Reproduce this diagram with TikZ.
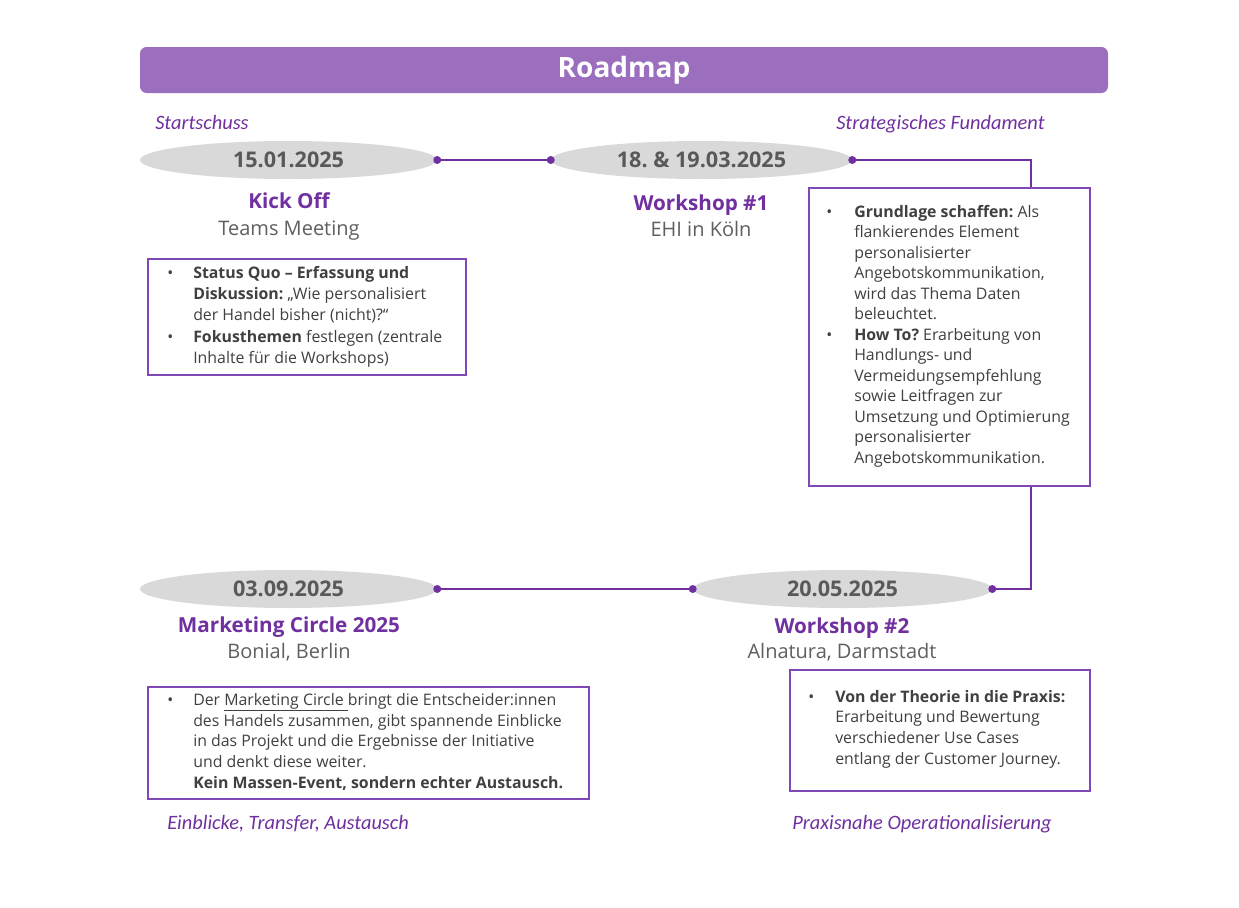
\documentclass[tikz,border=0pt]{standalone}
\usepackage{fontspec}
\setmainfont{Carlito}
\newfontfamily\osf{Open Sans}
\usetikzlibrary{shapes.geometric}
\definecolor{pline}{RGB}{112,48,160}
\definecolor{pbox}{RGB}{128,72,182}
\definecolor{phead}{RGB}{155,110,190}
\definecolor{egray}{RGB}{217,217,217}
\definecolor{dtext}{RGB}{89,89,89}
\definecolor{btext}{RGB}{64,64,64}
\definecolor{stext}{RGB}{95,95,95}
\newcommand\bul{\textbullet}
\frenchspacing
\tikzset{
  datebox/.style={ellipse, fill=egray, inner sep=0pt, minimum height=28.5pt,
    font=\osf\bfseries\fontsize{16.2}{18}\selectfont, text=dtext},
  ttl/.style={anchor=base, inner sep=0pt, font=\osf\bfseries\fontsize{15.5}{18}\selectfont, text=pline},
  sub/.style={anchor=base, inner sep=0pt, font=\osf\fontsize{15}{18}\selectfont, text=stext},
  infobox/.style={draw=pbox, line width=1.1pt, fill=white, inner sep=0pt},
  boxtext/.style={anchor=base west, inner sep=0pt, text=btext},
  phase/.style={anchor=base west, inner sep=0pt, font=\itshape\fontsize{15.3}{17}\selectfont, text=pline},
  conn/.style={draw=pline, line width=2pt},
  dotc/.style={circle, fill=pline, inner sep=0pt, minimum size=6pt}
}
\begin{document}
\begin{tikzpicture}[x=0.75pt,y=-0.75pt]
\useasboundingbox[fill=white] (0,0) rectangle (1239,907);

% header
\node[fill=phead, rounded corners=5pt, minimum width=726pt, minimum height=34.5pt, inner sep=0pt,
  text=white, font=\osf\bfseries\fontsize{21}{24}\selectfont] (header) at (624,70) {Roadmap};

% phase labels
\node[phase] (ph1) at (155,129) {Startschuss};
\node[phase] (ph2) at (836,129) {Strategisches Fundament};
\node[phase] (ph3) at (167,829) {Einblicke, Transfer, Austausch};
\node[phase] (ph4) at (792,829) {Praxisnahe Operationalisierung};

% date ellipses
\node[datebox, minimum width=222.75pt] (d1) at (288.5,160) {15.01.2025};
\node[datebox, minimum width=225.75pt] (d2) at (701.5,160) {18. \& 19.03.2025};
\node[datebox, minimum width=222.75pt] (d3) at (288.5,589) {03.09.2025};
\node[datebox, minimum width=224.25pt] (d4) at (842.5,589) {20.05.2025};

% titles
\node[ttl] (t1) at (289,208) {Kick Off};
\node[sub] (s1) at (289,235) {Teams Meeting};
\node[ttl] (t2) at (701,210) {Workshop \#1};
\node[sub] (s2) at (701,236) {EHI in Köln};
\node[ttl] (t3) at (289,632) {Marketing Circle 2025};
\node[sub] (s3) at (289,658) {Bonial, Berlin};
\node[ttl] (t4) at (842,633) {Workshop \#2};
\node[sub] (s4) at (842,658) {Alnatura, Darmstadt};

% boxes
\node[infobox, minimum width=238.5pt, minimum height=87pt] (b1) at (307,317) {};
\node[infobox, minimum width=210.75pt, minimum height=223.5pt] (b2) at (949.5,337) {};
\node[infobox, minimum width=330.75pt, minimum height=84pt] (b3) at (368.5,743) {};
\node[infobox, minimum width=225pt, minimum height=90.75pt] (b4) at (940,730.5) {};

\node[boxtext, font=\osf\fontsize{11.9}{16}\selectfont] (x1) at (167,278) {%
\begin{tabular}[t]{@{}p{19.5pt}@{}l@{}}
\bul & \textbf{Status Quo – Erfassung und}\\
 & \textbf{Diskussion:} „Wie personalisiert\\
 & der Handel bisher (nicht)?“\\
\bul & \textbf{Fokusthemen} festlegen (zentrale\\
 & Inhalte für die Workshops)
\end{tabular}};

\node[boxtext, font=\osf\fontsize{11.9}{15.4}\selectfont] (x2) at (826,217) {%
\begin{tabular}[t]{@{}p{21pt}@{}l@{}}
\bul & \textbf{Grundlage schaffen:} Als\\
 & flankierendes Element\\
 & personalisierter\\
 & Angebotskommunikation,\\
 & wird das Thema Daten\\
 & beleuchtet.\\
\bul & \textbf{How To?} Erarbeitung von\\
 & Handlungs- und\\
 & Vermeidungsempfehlung\\
 & sowie Leitfragen zur\\
 & Umsetzung und Optimierung\\
 & personalisierter\\
 & Angebotskommunikation.
\end{tabular}};

\node[boxtext, font=\osf\fontsize{11.9}{15.6}\selectfont] (x3) at (167,705) {%
\begin{tabular}[t]{@{}p{19.5pt}@{}l@{}}
\bul & Der \underline{Marketing Circle }bringt die Entscheider:innen\\
 & des Handels zusammen, gibt spannende Einblicke\\
 & in das Projekt und die Ergebnisse der Initiative\\
 & und denkt diese weiter.\\
 & \textbf{Kein Massen-Event, sondern echter Austausch.}
\end{tabular}};

\node[boxtext, font=\osf\fontsize{11.9}{15.5}\selectfont] (x4) at (808,702) {%
\begin{tabular}[t]{@{}p{20.25pt}@{}l@{}}
\bul & \textbf{Von der Theorie in die Praxis:}\\
 & Erarbeitung und Bewertung\\
 & verschiedener Use Cases\\
 & entlang der Customer Journey.
\end{tabular}};

% connectors
\coordinate (k1) at (1031,160);
\coordinate (k2) at (1031,589);
\draw[conn] (d1.east) -- (d2.west);
\draw[conn] (d2.east) -- (k1) -- (b2.north -| k1);
\draw[conn] (b2.south -| k1) -- (k2) -- (d4.east);
\draw[conn] (d4.west) -- (d3.east);
\node[dotc] (p1) at (d1.east) {};
\node[dotc] (p2) at (d2.west) {};
\node[dotc] (p3) at (d2.east) {};
\node[dotc] (p4) at (d4.east) {};
\node[dotc] (p5) at (d4.west) {};
\node[dotc] (p6) at (d3.east) {};
\end{tikzpicture}
\end{document}
